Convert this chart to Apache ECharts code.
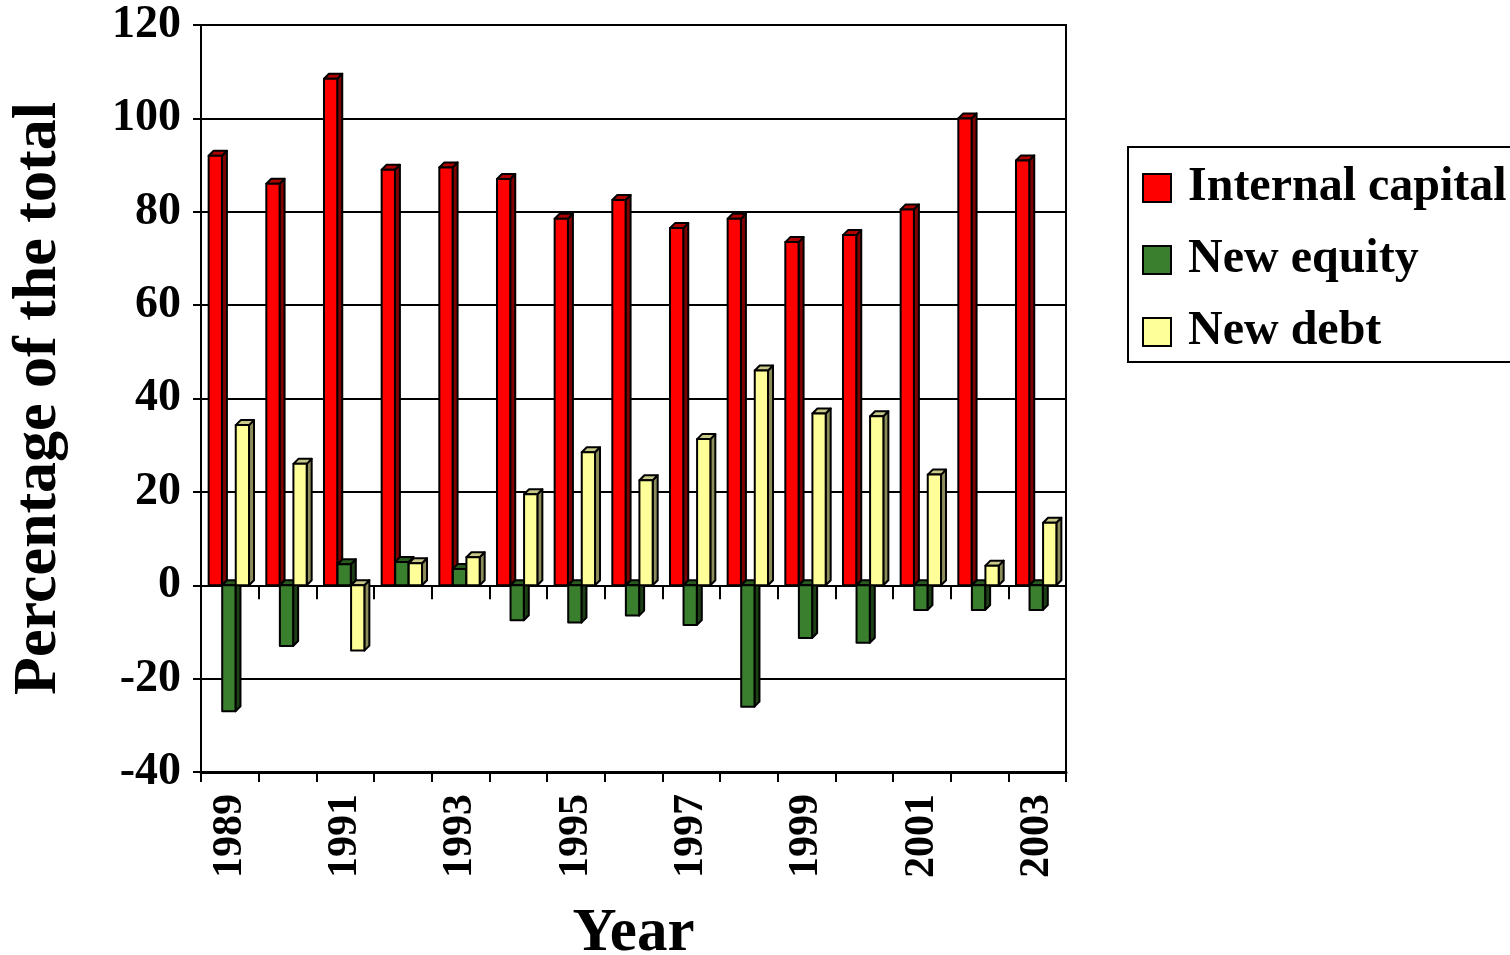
<!DOCTYPE html>
<html>
<head>
<meta charset="utf-8">
<script src="https://cdn.jsdelivr.net/npm/echarts@6/dist/echarts.min.js"></script>
<style>html,body{margin:0;padding:0;background:#fff}#c{width:1510px;height:955px}</style>
</head>
<body>
<div id="c"></div>
<script>
const years = ['1989','1990','1991','1992','1993','1994','1995','1996','1997','1998','1999','2000','2001','2002','2003'];
const internalCapital = [92, 86, 108.5, 89, 89.5, 87, 78.5, 82.5, 76.5, 78.5, 73.5, 75, 80.5, 100, 91];
const newEquity = [-27, -13, 4.5, 5, 3.5, -7.5, -8, -6.5, -8.5, -26, -11.3, -12.3, -5.3, -5.3, -5.3];
const newDebt = [34.3, 26, -14, 4.7, 6, 19.5, 28.5, 22.5, 31.3, 46, 36.8, 36.2, 23.7, 4.2, 13.4];
const yTicks = {min: -40, max: 120, interval: 20};

const FONT = '"Liberation Serif", "DejaVu Serif", "Times New Roman", serif';

function render3d(idx, front, side, top) {
  return function (params, api) {
    const cat = api.value(0), v = api.value(1);
    const base = api.coord([cat, 0]);
    const tip = api.coord([cat, v]);
    const catW = api.size([1, 0])[0];
    const bw = catW * 0.23;
    const d = 5;
    const cx = base[0] + (idx - 1) * catW * 0.235 - 1;
    const x0 = cx - bw / 2, x1 = cx + bw / 2;
    const yT = Math.min(base[1], tip[1]), yB = Math.max(base[1], tip[1]);
    const ls = {stroke: '#000', lineWidth: 2, lineJoin: 'round'};
    return {
      type: 'group',
      children: [
        {type: 'polygon', shape: {points: [[x1, yT], [x1 + d, yT - d], [x1 + d, yB - d], [x1, yB]]}, style: Object.assign({fill: side}, ls)},
        {type: 'polygon', shape: {points: [[x0, yT], [x0 + d, yT - d], [x1 + d, yT - d], [x1, yT]]}, style: Object.assign({fill: top}, ls)},
        {type: 'rect', shape: {x: x0, y: yT, width: bw, height: Math.max(yB - yT, 0.5)}, style: Object.assign({fill: front}, ls)}
      ]
    };
  };
}

function mk(name, arr, idx, front, side, top) {
  return {
    name: name,
    type: 'custom',
    xAxisIndex: 0,
    yAxisIndex: 0,
    itemStyle: {color: front, borderColor: '#000', borderWidth: 2},
    renderItem: render3d(idx, front, side, top),
    data: arr.map((v, i) => [i, v]),
    z: 3
  };
}

const chart = echarts.init(document.getElementById('c'), null, {renderer: 'canvas'});
chart.setOption({
  animation: false,
  backgroundColor: '#fff',
  grid: {left: 201, right: 444, top: 25, bottom: 183, outerBoundsMode: 'none', containLabel: false, show: true, borderColor: '#000', borderWidth: 2, backgroundColor: 'transparent'},
  legend: {
    orient: 'vertical',
    left: 1128,
    top: 147,
    borderColor: '#000',
    borderWidth: 2,
    padding: [16, 30, 5, 14],
    itemWidth: 28,
    itemHeight: 28,
    itemGap: 22,
    icon: 'rect',
    textStyle: {fontFamily: FONT, fontWeight: 'bold', fontSize: 48, color: '#000', lineHeight: 50, padding: [0, 0, 0, 12]},
    data: [
      {name: 'Internal capital', itemStyle: {color: '#ff0000', borderColor: '#000', borderWidth: 2}},
      {name: 'New equity', itemStyle: {color: '#3a7f2e', borderColor: '#000', borderWidth: 2}},
      {name: 'New debt', itemStyle: {color: '#ffff99', borderColor: '#000', borderWidth: 2}}
    ]
  },
  xAxis: [
    {
      type: 'category',
      data: years,
      boundaryGap: true,
      axisLine: {onZero: true, lineStyle: {color: '#000', width: 2}},
      axisTick: {show: true, interval: 0, length: 14, lineStyle: {color: '#000', width: 2}},
      axisLabel: {show: false},
      splitLine: {show: false}
    },
    {
      type: 'category',
      data: years,
      position: 'bottom',
      boundaryGap: true,
      name: 'Year',
      nameLocation: 'middle',
      nameGap: 132,
      nameTextStyle: {fontFamily: FONT, fontWeight: 'bold', fontSize: 61, color: '#000'},
      axisLine: {onZero: false, lineStyle: {color: '#000', width: 3}},
      axisTick: {show: true, interval: 0, length: 10, lineStyle: {color: '#000', width: 2}},
      axisLabel: {show: true, interval: 1, rotate: 90, margin: 22, fontFamily: FONT, fontWeight: 'bold', fontSize: 42, color: '#000'},
      splitLine: {show: false}
    }
  ],
  yAxis: {
    type: 'value',
    min: yTicks.min,
    max: yTicks.max,
    interval: yTicks.interval,
    name: 'Percentage of the total',
    nameLocation: 'middle',
    nameGap: 131,
    nameTextStyle: {fontFamily: FONT, fontWeight: 'bold', fontSize: 62, color: '#000'},
    axisLine: {show: true, lineStyle: {color: '#000', width: 2}},
    axisTick: {show: true, length: 8, lineStyle: {color: '#000', width: 2}},
    axisLabel: {margin: 20, fontFamily: FONT, fontWeight: 'bold', fontSize: 46, color: '#000'},
    splitLine: {show: true, lineStyle: {color: '#000', width: 2}}
  },
  series: [
    mk('Internal capital', internalCapital, 0, '#ff0000', '#800000', '#b00000'),
    mk('New equity', newEquity, 1, '#3a7f2e', '#1d4016', '#2a5c20'),
    mk('New debt', newDebt, 2, '#ffff99', '#8c8c5a', '#c8c888')
  ]
});
</script>
</body>
</html>
